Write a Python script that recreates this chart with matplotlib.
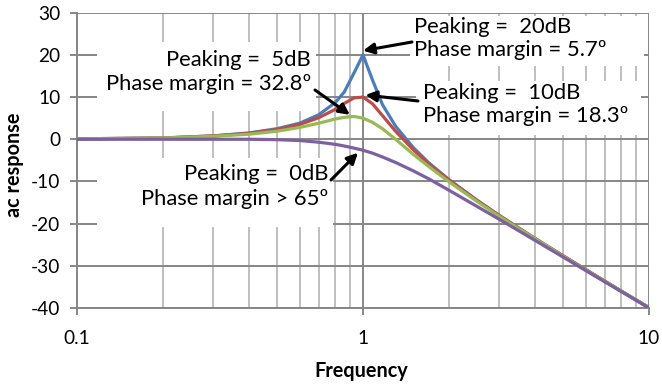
import matplotlib
matplotlib.use("Agg")
import matplotlib.pyplot as plt
from matplotlib.patches import Rectangle
from matplotlib.ticker import FixedLocator, NullFormatter

plt.rcParams['font.family'] = ['Lato', 'DejaVu Sans']
plt.rcParams['axes.unicode_minus'] = False

# frequency points (normalised) and ac response in dB
freq = [0.1, 0.2, 0.3, 0.4, 0.5, 0.6, 0.7, 0.8, 0.86, 0.93, 1.0, 1.08, 1.17,
        1.3, 1.5, 1.7, 2.0, 2.5, 3.0, 4.0, 5.0, 6.5, 8.0, 10.0]
pk20 = [0.1, 0.3, 0.8, 1.5, 2.5, 3.8, 5.8, 8.7, 11.2, 15.7, 20.0, 14.0, 8.2,
        3.1, -2.0, -5.6, -9.6, -14.4, -18.1, -23.5, -27.6, -32.3, -36.0, -39.9]
pk10 = [0.1, 0.3, 0.8, 1.4, 2.3, 3.5, 5.1, 7.1, 8.5, 9.8, 10.0, 8.4, 5.6,
        1.9, -2.5, -5.9, -9.7, -14.5, -18.1, -23.6, -27.6, -32.3, -36.0, -39.9]
pk5 = [0.1, 0.3, 0.7, 1.2, 1.9, 2.8, 3.8, 4.8, 5.2, 5.4, 5.0, 4.0, 2.5,
       0.0, -3.6, -6.5, -10.1, -14.7, -18.3, -23.6, -27.7, -32.4, -36.0, -39.9]
pk0 = [0.0, 0.0, 0.0, 0.0, -0.1, -0.3, -0.7, -1.2, -1.6, -2.1, -2.6, -3.3, -4.2,
       -5.5, -7.5, -9.4, -12.1, -15.9, -19.0, -24.0, -27.9, -32.5, -36.1, -40.0]

series = [(pk20, '#4A7EBB'), (pk10, '#BE4B48'), (pk5, '#98B954'), (pk0, '#7D60A0')]

W, H = 662, 385
fig = plt.figure(figsize=(W / 100, H / 100), dpi=100)
ax = fig.add_axes([77 / W, 1 - 308 / H, 572 / W, 295.3 / H])

def fx(px):
    return px / W

def fy(py):
    return 1 - py / H

major_c = '#868686'
minor_c = '#BFBFBF'

for vals, c in series:
    ax.plot(freq, vals, color=c, lw=2.3, solid_capstyle='round', zorder=3)

ax.set_xscale('log')
ax.set_xlim(0.1, 10)
ax.set_ylim(-40, 30)
ax.set_xticks([0.1, 1, 10])
ax.set_xticklabels(['0.1', '1', '10'])
ax.xaxis.set_minor_locator(FixedLocator([m * d for d in (0.1, 1) for m in range(2, 10)]))
ax.xaxis.set_minor_formatter(NullFormatter())
ax.set_yticks(range(-40, 31, 10))

ax.set_axisbelow(True)
ax.grid(True, which='major', axis='y', color=major_c, lw=1.4)
ax.grid(True, which='major', axis='x', color=major_c, lw=1.4)
ax.grid(True, which='minor', axis='x', color=minor_c, lw=1.4)
ax.tick_params(axis='both', which='major', direction='out', length=5, width=1.4,
               color=major_c, labelsize=13.8, labelcolor='black')
ax.tick_params(axis='y', pad=7)
ax.tick_params(axis='x', pad=11)
ax.tick_params(axis='x', which='minor', length=0)
for s in ['top', 'right']:
    ax.spines[s].set_visible(False)
for s in ['left', 'bottom']:
    ax.spines[s].set_color(major_c)
    ax.spines[s].set_linewidth(1.4)

fig.text(fx(361), fy(371), 'Frequency', fontsize=14.3, fontweight='bold',
         ha='center', va='center')
fig.text(fx(14), fy(165), 'ac response', fontsize=14.3, fontweight='bold',
         ha='center', va='center', rotation=90)

# white text boxes covering the grid
boxes = [(410, 16, 644, 66), (416, 81, 641, 135), (97, 42, 316, 111), (97, 158, 333, 227)]
for x0, y0, x1, y1 in boxes:
    ax.add_patch(Rectangle((fx(x0), fy(y1)), fx(x1) - fx(x0), fy(y0) - fy(y1),
                           transform=fig.transFigure, facecolor='white',
                           edgecolor='none', zorder=1.5))

fs = 15.8
notes = [
    ('Peaking =  20dB', 'Phase margin = 5.7º', 414, 27, 50, 'left'),
    ('Peaking =  10dB', 'Phase margin = 18.3º', 423, 93, 116, 'left'),
    ('Peaking =  5dB', 'Phase margin = 32.8º', 311, 60, 84.5, 'right'),
    ('Peaking =  0dB', 'Phase margin > 65º', 328, 173.5, 199, 'right'),
]
for l1, l2, x, y1, y2, ha in notes:
    fig.text(fx(x), fy(y1), l1, fontsize=fs, ha=ha, va='center')
    fig.text(fx(x), fy(y2), l2, fontsize=fs, ha=ha, va='center')

# arrows: tail in image pixels, head on the curve
arrows = [((412, 42), (1.0, 21.0)), ((418, 101), (1.02, 10.5)),
          ((315, 90), (0.90, 5.8)), ((331, 180), (0.96, -3.2))]
for (tx, ty), head in arrows:
    ax.annotate('', xy=head, xycoords='data', xytext=(tx, H - ty),
                textcoords='figure pixels',
                arrowprops=dict(arrowstyle='-|>', color='black', lw=2.2,
                                mutation_scale=16, shrinkA=0, shrinkB=0),
                zorder=4)

fig.savefig('out.png', dpi=100)
